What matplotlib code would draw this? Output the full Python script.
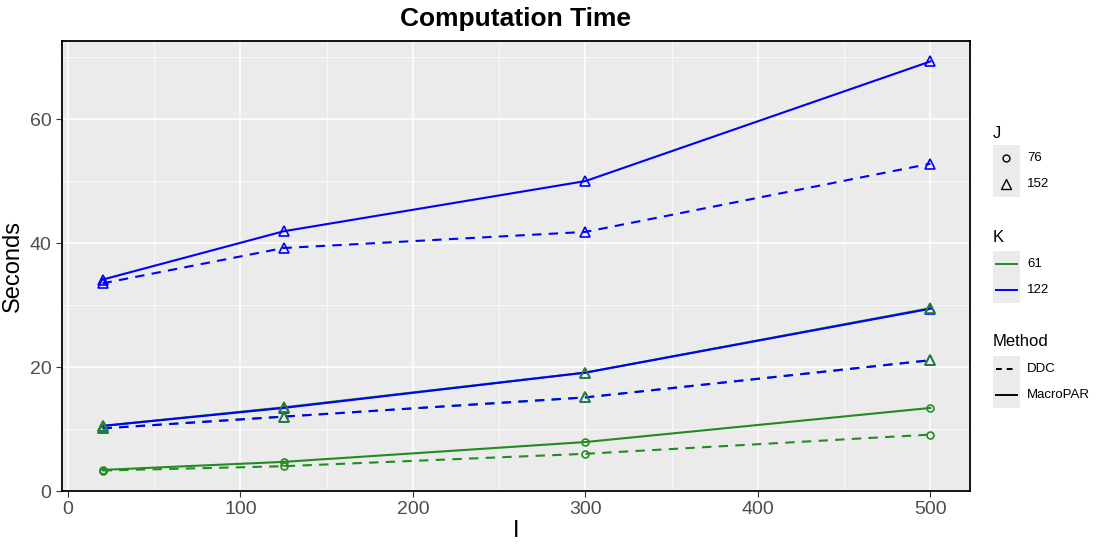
import matplotlib
matplotlib.use("Agg")
import matplotlib.pyplot as plt
from matplotlib.lines import Line2D
from matplotlib.patches import Rectangle

plt.rcParams["font.family"] = ["Liberation Sans", "DejaVu Sans"]

# data
I_vals = [20, 125, 300, 500]

# (J, K, Method, seconds)
series = [
    (152, 61, "MacroPAR", [10.5, 13.5, 19.1, 29.5]),
    (152, 61, "DDC",      [10.1, 12.0, 15.1, 21.1]),
    (76, 122, "MacroPAR", [10.5, 13.4, 19.1, 29.4]),
    (76, 122, "DDC",      [10.1, 12.0, 15.1, 21.1]),
    (76, 61, "MacroPAR",  [3.4, 4.7, 7.9, 13.4]),
    (76, 61, "DDC",       [3.3, 4.0, 6.0, 9.1]),
    (152, 122, "MacroPAR", [34.1, 41.9, 50.0, 69.3]),
    (152, 122, "DDC",      [33.5, 39.2, 41.8, 52.8]),
]

J_levels = [76, 152]
K_levels = [61, 122]
methods = ["DDC", "MacroPAR"]

colors = {61: "#228B22", 122: "#0000FF"}
shapes = {76: "o", 152: "^"}
styles = {"DDC": (0, (4.5, 3.5)), "MacroPAR": "-"}
msize = {76: 5, 152: 6.5}

fig = plt.figure(figsize=(11, 5.5), dpi=100)
ax = fig.add_axes([62 / 1100, 1 - 491 / 550, (970 - 62) / 1100, (491 - 41) / 550])
ax.set_facecolor("#EBEBEB")

# lines first, then points (ggplot layering)
for J, K, m, vals in series:
    ax.plot(I_vals, vals, color=colors[K], linestyle=styles[m], lw=1.5,
            zorder=3 if K == 61 else 3.5)
for J, K, m, vals in series:
    mk = shapes[J]
    ms = msize[J]
    if K == 122 and J == 76:
        # hidden under the green triangles in the original
        mk, ms = "^", msize[152]
    ax.plot(I_vals, vals, linestyle="none", marker=mk, ms=ms,
            mfc="none", mec=colors[K], mew=1.2, zorder=4 if K == 122 else 5)

ax.set_xlim(-3.5, 523)
ax.set_ylim(0, 72.6)
ax.set_xticks([0, 100, 200, 300, 400, 500])
ax.set_yticks([0, 20, 40, 60])
ax.set_xticks([50, 150, 250, 350, 450], minor=True)
ax.set_yticks([10, 30, 50, 70], minor=True)
ax.grid(True, which="major", color="white", lw=1.1, zorder=0)
ax.grid(True, which="minor", color="white", lw=0.5, zorder=0)
ax.set_axisbelow(True)
for sp in ax.spines.values():
    sp.set_color("black")
    sp.set_linewidth(1.3)
ax.tick_params(axis="both", which="major", labelsize=14, labelcolor="#4D4D4D",
               color="#333333", length=4)
ax.tick_params(axis="both", which="minor", length=0)

ax.set_xlabel("I", fontsize=17, labelpad=1)
ax.set_ylabel("Seconds", fontsize=17, labelpad=4)
fig.text(516 / 1100, 1 - 19 / 550, "Computation Time", fontsize=19,
         fontweight="bold", ha="center", va="center")

# legends drawn by hand, ggplot style
def fy(py):
    return 1 - py / 550

def fx(px):
    return px / 1100

def legend_block(title, title_y, box_top, labels, handles_kw):
    fig.text(fx(993), fy(title_y), title, fontsize=12, va="center", ha="left")
    fig.add_artist(Rectangle((fx(993), fy(box_top + 52)), fx(27), 52 / 550,
                             transform=fig.transFigure, facecolor="#EBEBEB",
                             edgecolor="none"))
    for i, (lab, kw) in enumerate(zip(labels, handles_kw)):
        yy = fy(box_top + 13 + 26 * i)
        if "marker" in kw:
            fig.add_artist(Line2D([fx(1006)], [yy], transform=fig.transFigure,
                                  linestyle="none", mfc="none", mec="black",
                                  mew=1.0, **kw))
        else:
            fig.add_artist(Line2D([fx(996), fx(1017)], [yy, yy],
                                  transform=fig.transFigure, lw=1.4, **kw))
        fig.text(fx(1027), yy, lab, fontsize=9.5, va="center", ha="left")

legend_block("J", 134, 145, [str(j) for j in J_levels],
             [{"marker": shapes[j], "ms": 5 if j == 76 else 6.5} for j in J_levels])
legend_block("K", 237, 251, [str(k) for k in K_levels],
             [{"color": colors[k]} for k in K_levels])
legend_block("Method", 341, 356, methods,
             [{"color": "black", "linestyle": (0, (3, 2.5))},
              {"color": "black", "linestyle": "-"}])

fig.savefig("out.png", dpi=100)
